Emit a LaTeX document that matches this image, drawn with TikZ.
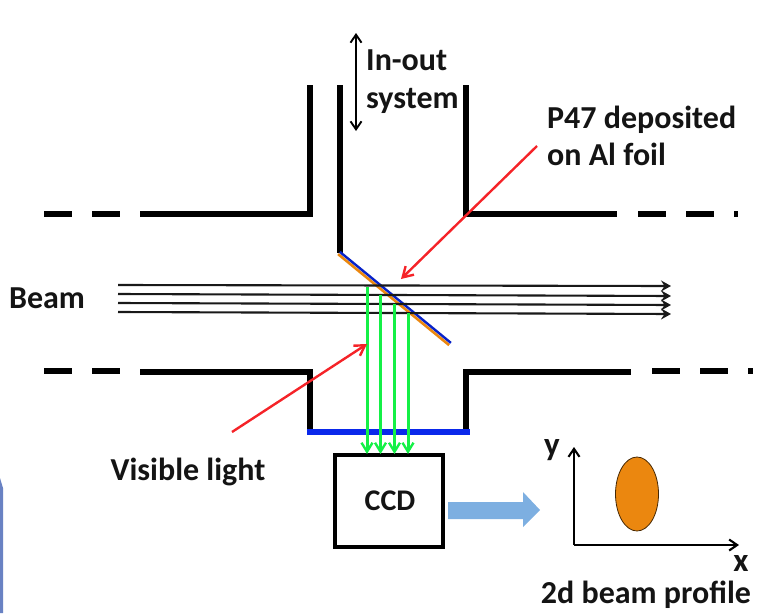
\documentclass[tikz,border=0pt]{standalone}
\usepackage{fontspec}
\setmainfont{Carlito}
\usetikzlibrary{arrows.meta,calc,shapes.geometric}
\definecolor{pipeblue}{RGB}{10,40,235}
\definecolor{foilorange}{RGB}{235,135,15}
\definecolor{lightgreen}{RGB}{20,240,70}
\definecolor{sideblue}{RGB}{105,130,195}
\definecolor{bigarrow}{RGB}{125,175,225}
\definecolor{redline}{RGB}{245,35,40}
\tikzset{
  wall/.style={line width=6pt,black,line cap=butt,line join=miter},
  beamray/.style={line width=2.1pt,black!90,-{Stealth[length=10pt,width=11pt,inset=3.5pt]}},
  lightray/.style={line width=3pt,lightgreen,-{Straight Barb[length=9pt,width=11pt,line width=2.4pt]}},
  pointer/.style={line width=2.4pt,redline,-{Straight Barb[length=10pt,width=12pt,line width=2.4pt]}},
  axisline/.style={line width=2.2pt,black,-{Straight Barb[length=8pt,width=11pt,line width=2.1pt]}},
  lab/.style={font=\bfseries\fontsize{32}{36}\selectfont,text=black!92,inner sep=0pt},
  lableft/.style={lab,anchor=base west}
}
\begin{document}
\begin{tikzpicture}[x=1pt,y=-1pt]
\useasboundingbox (0,0) rectangle (757,613);
% edge of the side bar
\fill[sideblue] (0,478) -- (3,488) -- (3,613) -- (0,613) -- cycle;
% walls
\draw[wall] (310,85) -- (310,214) -- (140,214);
\draw[wall] (92,214) -- (120,214);
\draw[wall] (44,214) -- (72,214);
\draw[wall] (466,85) -- (466,214) -- (617,214);
\draw[wall] (638,214) -- (666,214);
\draw[wall] (686,214) -- (714,214);
\draw[wall] (734,214) -- (738,214);
\draw[wall] (340,85) -- (340,253);
\draw[wall] (310,432) -- (310,372) -- (140,372);
\draw[wall] (92,371) -- (120,371);
\draw[wall] (44,371) -- (72,371);
\draw[wall] (466,432) -- (466,372) -- (631,372);
\draw[wall] (652,371) -- (680,371);
\draw[wall] (700,371) -- (728,371);
\draw[wall] (748,371) -- (753,371);
\draw[line width=6pt,pipeblue] (307,432) -- (470,432);
% CCD
\node[draw=black,line width=3.5pt,minimum width=108pt,minimum height=92pt,inner sep=0pt,lab,font=\bfseries\fontsize{30}{34}\selectfont] (ccd) at (389,501) {\raisebox{-5pt}{\hspace{2pt}CCD}};
% foil
\coordinate (foilA) at (339,253);
\coordinate (foilB) at (450,344);
\draw[line width=2.6pt,foilorange] ($(foilA)+(-0.9,1.1)$) -- ($(foilB)+(-0.9,1.1)$);
\draw[line width=2.4pt,pipeblue!85!black] ($(foilA)+(0.9,-1.1)$) -- ($(foilB)+(0.9,-1.1)$);
% beam
\foreach \i/\a/\b in {1/285/286,2/294/296,3/303/305,4/312/314}{
  \coordinate (bs\i) at (118,\a);
  \coordinate (be\i) at (671,\b);
  \draw[beamray] (bs\i) -- (be\i);
}
% visible light
\foreach \i/\x/\t in {1/367/287,2/380.5/295,3/394.5/304,4/408/313}{
  \coordinate (ls\i) at (\x,\t);
  \coordinate (le\i) at (\x,454);
  \draw[lightray] (ls\i) -- (le\i);
}
% red pointers
\coordinate (p1s) at (537,146);
\coordinate (p1e) at (401,279);
\coordinate (p2s) at (232,432);
\coordinate (p2e) at (367,344);
\draw[pointer] (p1s) -- (p1e);
\draw[pointer] (p2s) -- (p2e);
% in-out arrow
\coordinate (ioA) at (356,33);
\coordinate (ioB) at (356,131);
\draw[line width=2pt,{Straight Barb[length=8pt,width=11pt,line width=1.9pt]}-{Straight Barb[length=8pt,width=11pt,line width=1.9pt]}] (ioA) -- (ioB);
% labels
\node[lableft] (io1) at (366,70) {In-out};
\node[lableft] (io2) at (366,108) {system};
\node[lableft] (p47a) at (547,128) {P47 deposited};
\node[lableft] (p47b) at (547,165) {on Al foil};
\node[lab] (beam) at (47,298) {Beam};
\node[lab] (vis) at (188,472) {Visible light};
% big arrow
\fill[bigarrow] (448,502) -- (523,502) -- (523,492) -- (540,510) -- (523,527) -- (523,519) -- (448,519) -- cycle;
% axes
\coordinate (orig) at (574,545);
\coordinate (yend) at (574,447);
\coordinate (xend) at (739,545);
\draw[axisline] (orig) -- (yend);
\draw[axisline] (orig) -- (xend);
\node[draw=black!70!foilorange,line width=0.8pt,fill=foilorange,ellipse,minimum width=43pt,minimum height=74pt,inner sep=0pt] (spot) at (637,494) {};
\node[lab,font=\bfseries\fontsize{33}{36}\selectfont] (ylab) at (552,450) {y};
\node[lab,font=\bfseries\fontsize{33}{36}\selectfont] (xlab) at (741,563) {x};
\node[lab] (prof) at (646,595) {2d beam profile};
\end{tikzpicture}
\end{document}
